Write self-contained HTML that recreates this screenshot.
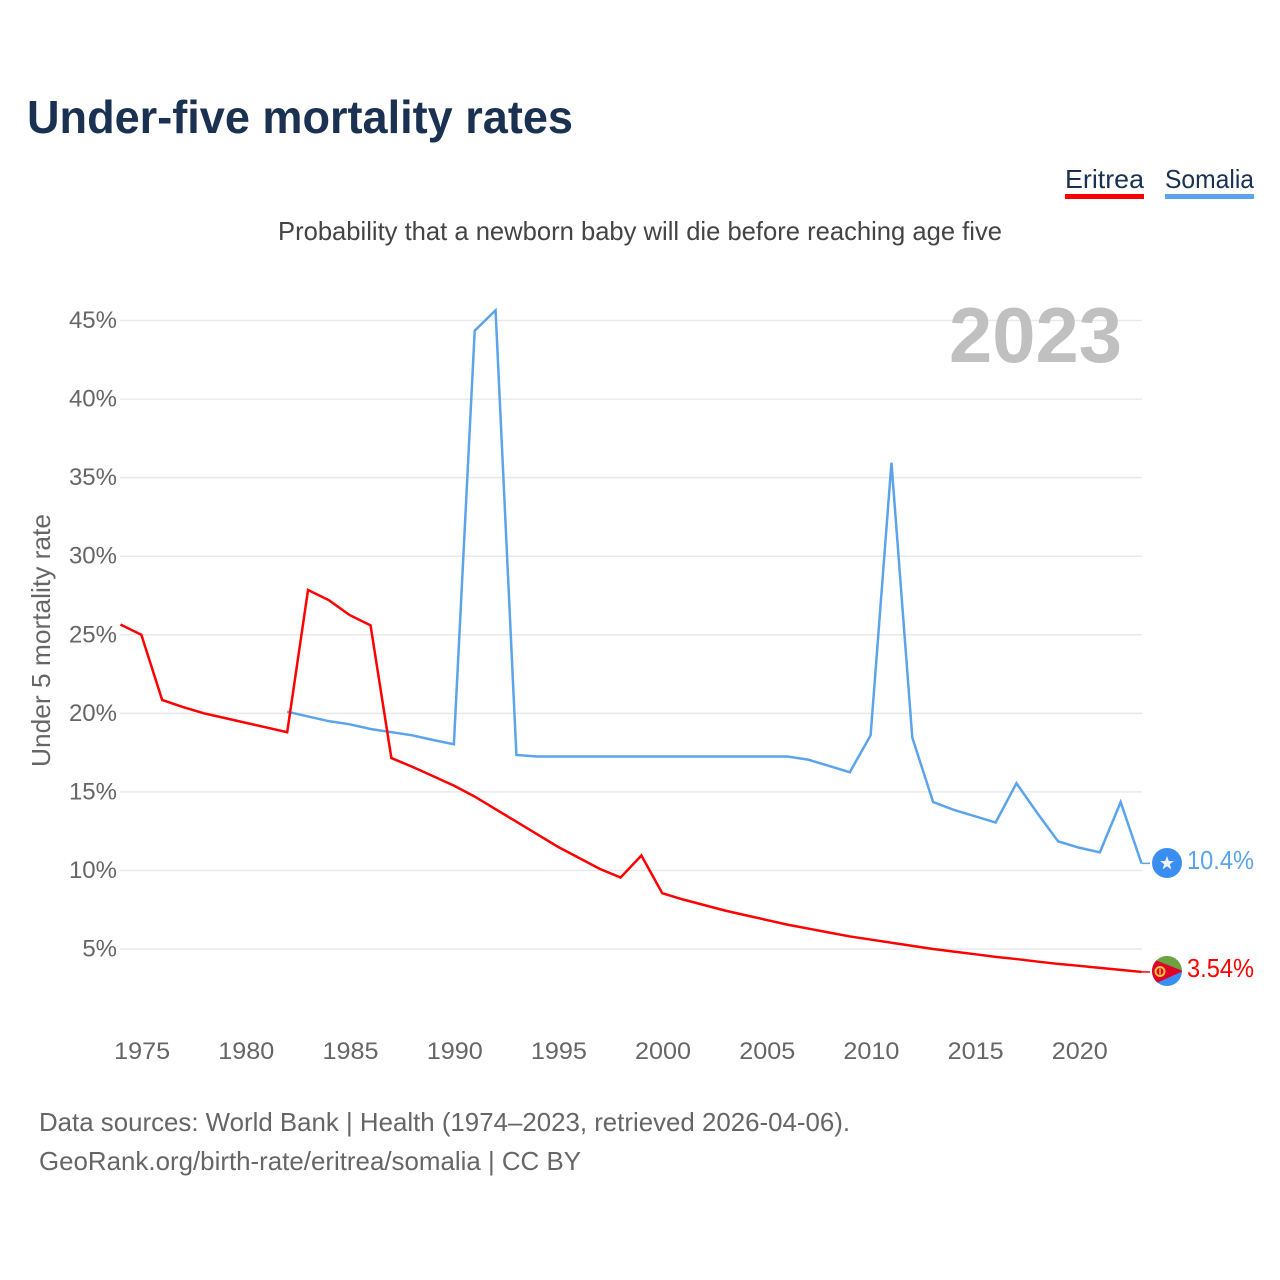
<!DOCTYPE html>
<html lang="en">
<head>
<meta charset="utf-8">
<title>Under-five mortality rates</title>
<style>
html,body{margin:0;padding:0;background:#fff}
svg{display:block}
text{font-family:"Liberation Sans",sans-serif}
</style>
</head>
<body>
<svg id="chart" xmlns="http://www.w3.org/2000/svg" width="1280" height="1280" viewBox="0 0 1280 1280">
<rect width="1280" height="1280" fill="#fff"/>
<text x="27" y="133" font-size="46" font-weight="700" fill="#1a3152" textLength="546" lengthAdjust="spacingAndGlyphs">Under-five mortality rates</text>
<g>
<g>
<text x="1065" y="188" font-size="26" fill="#1a3152" textLength="79" lengthAdjust="spacingAndGlyphs">Eritrea</text>
<rect x="1065" y="194" width="79" height="5" fill="#ff0000"/>
</g>
<g>
<text x="1165" y="188" font-size="26" fill="#1a3152" textLength="89" lengthAdjust="spacingAndGlyphs">Somalia</text>
<rect x="1165" y="194" width="89" height="5" fill="#5ba4ec"/>
</g>
</g>
<text x="278" y="240" font-size="26" fill="#444" textLength="724" lengthAdjust="spacingAndGlyphs">Probability that a newborn baby will die before reaching age five</text>
<g id="grid"></g>
<g id="yticks"></g>
<g id="xticks"></g>
<text x="949" y="362" font-size="78" font-weight="700" fill="#c0c0c0" textLength="173" lengthAdjust="spacingAndGlyphs">2023</text>
<text transform="translate(50,767) rotate(-90)" font-size="26" fill="#666" textLength="253" lengthAdjust="spacingAndGlyphs">Under 5 mortality rate</text>
<g id="series"></g>
<g>
<circle cx="1167" cy="863" r="15" fill="#3a8ef2"/>
<polygon points="1167,856 1168.8,861 1174,861 1169.8,864.2 1171.4,869.4 1167,866.2 1162.6,869.4 1164.2,864.2 1160,861 1165.2,861" fill="#eef3fa"/>
</g>
<g>
<clipPath id="flagclip"><circle cx="1167" cy="971" r="15"/></clipPath>
<g clip-path="url(#flagclip)">
<rect x="1152" y="956" width="30" height="15" fill="#6aa33f"/>
<rect x="1152" y="971" width="30" height="15" fill="#3a8ef2"/>
<polygon points="1150,958 1183,971 1150,986" fill="#e0002a"/>
<circle cx="1160" cy="971.5" r="4.5" fill="none" stroke="#f5c842" stroke-width="2"/>
<rect x="1159.3" y="968.5" width="1.4" height="6" fill="#f5c842"/>
</g>
</g>
<text id="label-somalia" x="1187" y="869" font-size="26" fill="#5ba4ec" textLength="67" lengthAdjust="spacingAndGlyphs"></text>
<text id="label-eritrea" x="1187" y="977" font-size="26" fill="#ff0000" textLength="67" lengthAdjust="spacingAndGlyphs"></text>
<text x="39" y="1131" font-size="26" fill="#666" textLength="811" lengthAdjust="spacingAndGlyphs">Data sources: World Bank | Health (1974–2023, retrieved 2026-04-06).</text>
<text x="39" y="1170" font-size="26" fill="#666" textLength="542" lengthAdjust="spacingAndGlyphs">GeoRank.org/birth-rate/eritrea/somalia | CC BY</text>
</svg>
<script>
var yTickValues = [5, 10, 15, 20, 25, 30, 35, 40, 45];
var xTickYears = [1975, 1980, 1985, 1990, 1995, 2000, 2005, 2010, 2015, 2020];
var eritreaStartYear = 1974;
var eritreaValues = [25.65, 25.0, 20.85, 20.4, 20.0, 19.7, 19.4, 19.1, 18.8, 27.85, 27.2, 26.25, 25.6, 17.15, 16.6, 16.0, 15.4, 14.7, 13.9, 13.1, 12.3, 11.5, 10.8, 10.1, 9.55, 10.95, 8.55, 8.15, 7.8, 7.45, 7.15, 6.85, 6.55, 6.3, 6.05, 5.8, 5.6, 5.4, 5.2, 5.0, 4.83, 4.67, 4.5, 4.36, 4.2, 4.05, 3.93, 3.8, 3.67, 3.54];
var somaliaStartYear = 1982;
var somaliaValues = [20.1, 19.8, 19.5, 19.3, 19.0, 18.8, 18.6, 18.3, 18.03, 44.35, 45.65, 17.35, 17.25, 17.25, 17.25, 17.25, 17.25, 17.25, 17.25, 17.25, 17.25, 17.25, 17.25, 17.25, 17.25, 17.05, 16.65, 16.25, 18.6, 35.95, 18.45, 14.35, 13.85, 13.45, 13.05, 15.55, 13.65, 11.85, 11.45, 11.15, 14.35, 10.45];
var eritreaLabel = "3.54%";
var somaliaLabel = "10.4%";

var NS = "http://www.w3.org/2000/svg";
function xScale(year) { return 120.5 + (year - 1974) * (1141.5 - 120.5) / 49; }
function yScale(value) { return 949 - (value - 5) * (949 - 320.5) / 40; }
function make(tag, parent, attrs) {
  var el = document.createElementNS(NS, tag);
  for (var k in attrs) el.setAttribute(k, attrs[k]);
  parent.appendChild(el);
  return el;
}
var grid = document.getElementById("grid");
var yticks = document.getElementById("yticks");
var xticks = document.getElementById("xticks");
var series = document.getElementById("series");

yTickValues.forEach(function (v) {
  var line = make("line", grid, { x1: 120, x2: 1142, y1: yScale(v), y2: yScale(v), stroke: "#e9e9e9", "stroke-width": 1.5 });
  
  
  var t = make("text", yticks, { x: 117, y: yScale(v) + 7.5, "text-anchor": "end", "font-size": 24, fill: "#666" });
  
  
  t.textContent = v + "%";
});
xTickYears.forEach(function (y) {
  var t = make("text", xticks, { x: xScale(y) + 0.8, y: 1059, "text-anchor": "middle", "font-size": 24, fill: "#666", textLength: 56, lengthAdjust: "spacingAndGlyphs" });
  
  
  t.textContent = y;
});
function linePoints(startYear, values) {
  return values.map(function (v, i) { return xScale(startYear + i).toFixed(2) + "," + yScale(v).toFixed(2); }).join(" ");
}
var somaliaLine = make("polyline", series, { points: linePoints(somaliaStartYear, somaliaValues), fill: "none", stroke: "#5ba4ec", "stroke-width": 2.5, "stroke-linejoin": "miter" });


var eritreaLine = make("polyline", series, { points: linePoints(eritreaStartYear, eritreaValues), fill: "none", stroke: "#ff0000", "stroke-width": 2.5, "stroke-linejoin": "miter" });


var lastS = yScale(somaliaValues[somaliaValues.length - 1]);
var lastE = yScale(eritreaValues[eritreaValues.length - 1]);
var connS = make("line", series, { x1: 1141.5, x2: 1150, y1: lastS, y2: lastS, stroke: "#5ba4ec", "stroke-width": 1.5 });


var connE = make("line", series, { x1: 1141.5, x2: 1150, y1: lastE, y2: lastE, stroke: "#ff0000", "stroke-width": 1.5 });


document.getElementById("label-somalia").textContent = somaliaLabel;
document.getElementById("label-eritrea").textContent = eritreaLabel;
</script>
</body>
</html>
